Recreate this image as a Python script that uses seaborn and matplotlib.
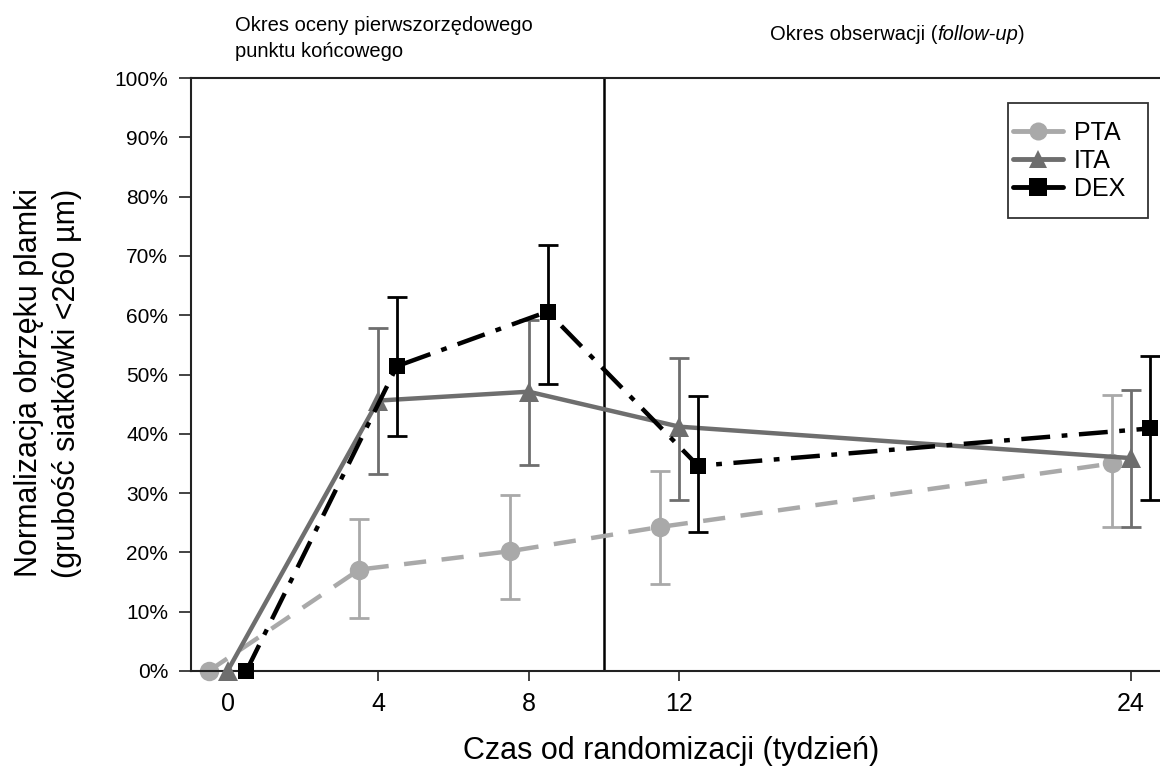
import numpy as np
import pandas as pd
import matplotlib
matplotlib.use("Agg")
import matplotlib.pyplot as plt
from matplotlib.lines import Line2D
from matplotlib.patches import Rectangle
import seaborn as sns

# ---- data ----
weeks = [0, 4, 8, 12, 24]
groups = ["PTA", "ITA", "DEX"]

pta = [0.0, 17.1, 20.2, 24.3, 35.0]
pta_lo = [None, 9.0, 12.1, 14.7, 24.2]
pta_hi = [None, 25.7, 29.6, 33.8, 46.6]

ita = [0.0, 45.6, 47.1, 41.2, 35.9]
ita_lo = [None, 33.2, 34.7, 28.8, 24.2]
ita_hi = [None, 57.8, 59.2, 52.7, 47.4]

dex = [0.0, 51.4, 60.6, 34.6, 40.9]
dex_lo = [None, 39.6, 48.4, 23.5, 28.8]
dex_hi = [None, 63.1, 71.8, 46.3, 53.1]

yticks = list(range(0, 101, 10))
ytick_labels = [f"{v}%" for v in yticks]

# ---- styling ----
colors = {"PTA": "#a9a9a9", "ITA": "#6e6e6e", "DEX": "#000000"}
markers = {"PTA": "o", "ITA": "^", "DEX": "s"}
msizes = {"PTA": 14, "ITA": 14, "DEX": 12}
dashes = {"PTA": (5, 3.5), "ITA": "", "DEX": (6.5, 2.6, 1.3, 2.6)}
dodge = {"PTA": -0.5, "ITA": 0.0, "DEX": 0.5}

sns.set_theme(style="ticks")
plt.rcParams["font.family"] = ["Liberation Sans", "DejaVu Sans"]
for key in ["text.color", "axes.labelcolor", "xtick.color", "ytick.color"]:
    plt.rcParams[key] = "black"

values = {"PTA": (pta, pta_lo, pta_hi), "ITA": (ita, ita_lo, ita_hi),
          "DEX": (dex, dex_lo, dex_hi)}

rows = []
for g in groups:
    v, lo, hi = values[g]
    for w, val in zip(weeks, v):
        rows.append({"group": g, "week": w, "pos": w + dodge[g], "value": val})
df = pd.DataFrame(rows)

W, H = 1160, 769
fig = plt.figure(figsize=(W / 100, H / 100), dpi=100)
ax = fig.add_axes([191 / W, 1 - 671 / H, 1 - 191 / W, (671 - 78) / H])

# error bars first so the lines sit on top
z = {"PTA": 2, "ITA": 3, "DEX": 4}
for g in groups:
    v, lo, hi = values[g]
    xs, ys, el, eh = [], [], [], []
    for w, val, a, b in zip(weeks, v, lo, hi):
        if a is None:
            continue
        xs.append(w + dodge[g]); ys.append(val)
        el.append(val - a); eh.append(b - val)
    ax.errorbar(xs, ys, yerr=[el, eh], fmt="none", ecolor=colors[g],
                elinewidth=2.0, capsize=7, capthick=2.0, zorder=z[g])

for g in groups:
    sub = df[df["group"] == g]
    sns.lineplot(data=sub, x="pos", y="value", ax=ax, color=colors[g],
                 marker=markers[g], markersize=msizes[g], linewidth=3.2,
                 markeredgewidth=0, legend=False, zorder=z[g] + 0.5,
                 estimator=None, sort=False)
    ln = ax.lines[-1]
    if dashes[g]:
        ln.set_dashes(dashes[g])
    ln.set_clip_on(False)

ax.axvline(10, color="black", lw=1.8, zorder=1)

ax.set_xlim(-0.97, 24.77)
ax.set_ylim(0, 100)
ax.set_xticks(weeks)
ax.set_xticklabels([str(w) for w in weeks], fontsize=18)
ax.set_yticks(yticks)
ax.set_yticklabels(ytick_labels, fontsize=15)
ax.tick_params(axis="y", length=8.5, width=1.2, color="#222222", pad=8)
ax.tick_params(axis="x", length=7, width=1.2, color="#222222", pad=8)
ax.set_xlabel("")
ax.set_ylabel("")
for s in ["left", "bottom", "top"]:
    ax.spines[s].set_linewidth(1.5)
    ax.spines[s].set_color("#222222")
ax.spines["right"].set_visible(False)

# axis titles
fig.text(671 / W, 1 - 751 / H, "Czas od randomizacji (tydzień)",
         fontsize=22, ha="center", va="center")
fig.text(48 / W, 1 - 383 / H,
         "Normalizacja obrzęku plamki\n(grubość siatkówki <260 µm)",
         fontsize=22, rotation=90, ha="center", va="center",
         multialignment="center", linespacing=1.35)

# period captions above the plot
fig.text(235 / W, 1 - 31 / H, "Okres oceny pierwszorzędowego",
         fontsize=14.5, ha="left", va="baseline")
fig.text(235 / W, 1 - 57 / H, "punktu końcowego",
         fontsize=14.5, ha="left", va="baseline")

renderer = fig.canvas.get_renderer()
xpix = 770
for part, style in [("Okres obserwacji (", "normal"), ("follow-up", "italic"), (")", "normal")]:
    t = fig.text(xpix / W, 1 - 40 / H, part, fontsize=14.5, fontstyle=style,
                 ha="left", va="baseline")
    bb = t.get_window_extent(renderer=renderer)
    xpix += bb.width

# legend: entries placed without their own frame, boxed separately
handles = [Line2D([], [], color=colors[g], marker=markers[g], markersize=13,
                  linewidth=3.5, markeredgewidth=0) for g in groups]
leg = ax.legend(handles, groups, loc="upper left",
                bbox_to_anchor=(1013 / W, 1 - 121 / H), bbox_transform=fig.transFigure,
                borderaxespad=0, fontsize=18, frameon=False,
                handlelength=2.0, handletextpad=0.45, labelspacing=0.16,
                borderpad=0.0)
fig.add_artist(Rectangle((1008 / W, 1 - 218 / H), 140 / W, 115 / H,
                         transform=fig.transFigure, fill=False,
                         edgecolor="#333333", linewidth=1.3, zorder=5))

fig.savefig("out.png", dpi=100)
